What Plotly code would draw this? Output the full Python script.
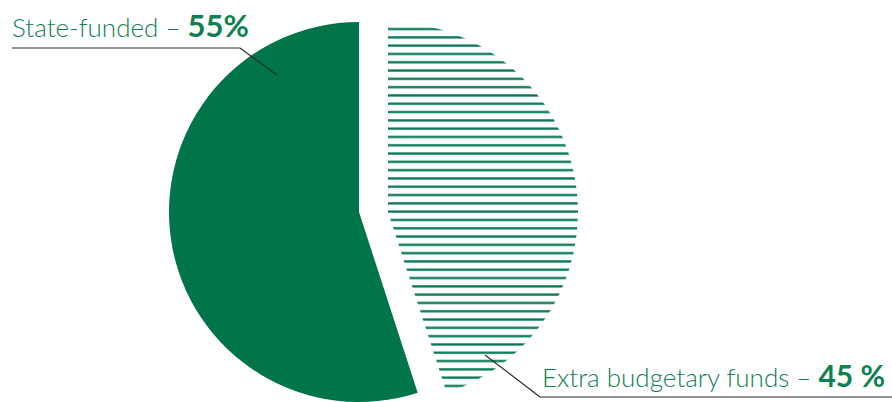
import plotly.graph_objects as go

# Data (ordered so the clockwise layout puts "Extra" on the right, "State" on the left)
categories = ["Extra budgetary funds", "State-funded"]
values = [45, 55]
label_texts = ["State-funded – ", "Extra budgetary funds – "]
pct_texts = ["55%", "45 %"]

W, H = 892, 402
GREEN = "#00754a"
TEXT_GREEN = "#108051"
LINE = "#2b2b2b"

def px_x(x):
    return x / W

def px_y(y):
    return 1 - y / H

fig = go.Figure()

# Solid slice (State-funded)
fig.add_trace(go.Pie(
    labels=categories, values=values, sort=False, direction="clockwise",
    rotation=0, textinfo="none", hoverinfo="skip", showlegend=False,
    marker=dict(colors=["rgba(255,255,255,0)", GREEN], line=dict(width=0)),
    domain=dict(x=[px_x(169), px_x(549)], y=[0, px_y(22)]),
))

# Striped slice (Extra budgetary funds), exploded to the right
fig.add_trace(go.Pie(
    labels=[c + " (detached)" for c in categories], values=values, sort=False,
    direction="clockwise", rotation=0, textinfo="none", hoverinfo="skip", showlegend=False,
    marker=dict(colors=["rgba(255,255,255,1)", "rgba(255,255,255,0)"], line=dict(width=0),
                pattern=dict(shape=["-", ""], fgcolor=GREEN, fgopacity=1, size=8.3,
                             solidity=0.27, fillmode="overlay")),
    domain=dict(x=[px_x(198), px_x(578)], y=[0, px_y(22)]),
))

FONT = "Lato"

fig.add_annotation(
    x=px_x(10), y=px_y(46), xref="paper", yref="paper", xanchor="left", yanchor="bottom",
    showarrow=False,
    text=(f"<span style='font-size:26px;font-weight:300'>{label_texts[0]}</span>"
          f"<b style='font-size:31px'>{pct_texts[0]}</b>"),
    font=dict(family=FONT, size=26, color=TEXT_GREEN, weight=300),
)
fig.add_annotation(
    x=px_x(540), y=px_y(395), xref="paper", yref="paper", xanchor="left", yanchor="bottom",
    showarrow=False,
    text=(f"<span style='font-size:26px;font-weight:300'>{label_texts[1]}</span>"
          f"<b style='font-size:30px'>{pct_texts[1]}</b>"),
    font=dict(family=FONT, size=26, color=TEXT_GREEN, weight=300),
)

# Leader lines
leader_lines = [
    [(12, 48), (240, 48), (277, 75)],
    [(485, 355), (540, 397), (892, 397)],
]
for pts in leader_lines:
    for (x0, y0), (x1, y1) in zip(pts[:-1], pts[1:]):
        fig.add_shape(type="line", xref="paper", yref="paper",
                      x0=px_x(x0), y0=px_y(y0), x1=px_x(x1), y1=px_y(y1),
                      line=dict(color=LINE, width=1.2))

fig.update_layout(
    width=W, height=H, margin=dict(l=0, r=0, t=0, b=0),
    paper_bgcolor="white", plot_bgcolor="white",
)

fig.write_html("out.html", config={"displayModeBar": False},
               post_script="document.body.style.margin='0';document.body.style.overflow='hidden';")
